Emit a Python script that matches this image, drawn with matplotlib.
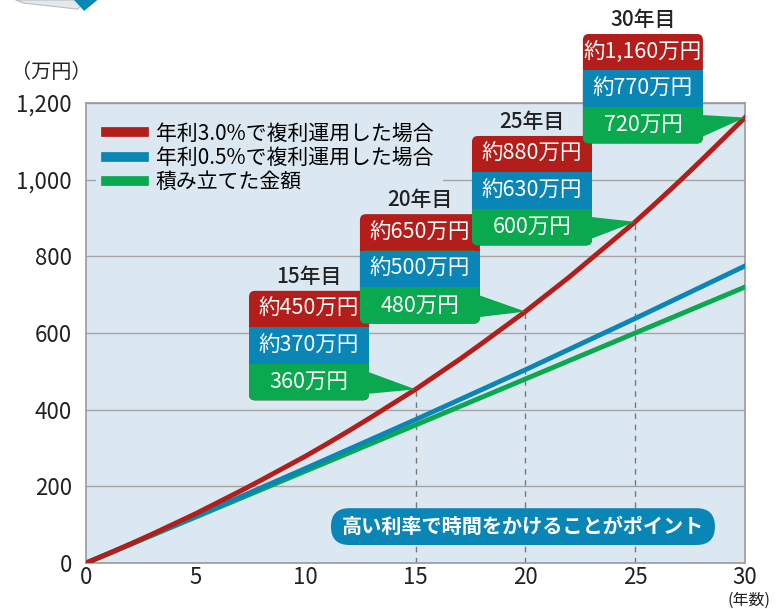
import matplotlib
matplotlib.use('Agg')
import matplotlib.pyplot as plt
from matplotlib.patches import FancyBboxPatch, Rectangle, Polygon
import numpy as np

plt.rcParams['font.family'] = ['Noto Sans CJK JP', 'DejaVu Sans']

RED = '#b31d1a'
BLUE = '#0a86b6'
GREEN = '#0aa84f'
BG = '#dce8f1'

# 年数と金額（万円）
YEARS_RED = list(range(0, 31))
RED_VALUES = [0, 24, 49, 75, 102, 129, 158, 187, 217, 248, 279, 312, 346, 381, 417, 453,
              492, 531, 572, 614, 656, 701, 746, 794, 842, 890, 942, 995, 1050, 1106, 1162]
YEARS = [0, 5, 10, 15, 20, 25, 30]
BLUE_VALUES = [0, 122, 247, 374, 504, 638, 775]
GREEN_VALUES = [0, 120, 240, 360, 480, 600, 720]

LABELS = ['年利3.0%で複利運用した場合', '年利0.5%で複利運用した場合', '積み立てた金額']

CALLOUT_YEARS = [15, 20, 25, 30]
CALLOUT_TITLES = ['15年目', '20年目', '25年目', '30年目']
CALLOUT_RED = ['約450万円', '約650万円', '約880万円', '約1,160万円']
CALLOUT_BLUE = ['約370万円', '約500万円', '約630万円', '約770万円']
CALLOUT_GREEN = ['360万円', '480万円', '600万円', '720万円']
# box left edge (years) and top (万円)
CALLOUT_X = [7.42, 12.47, 17.57, 22.62]
CALLOUT_TOP = [710, 910, 1114, 1380]

fig = plt.figure(figsize=(7.79, 6.09), dpi=100)
ax = fig.add_axes([0.1104, 0.0755, 0.8460, 0.7554])
ax.set_facecolor(BG)
ax.set_xlim(0, 30)
ax.set_ylim(0, 1200)

for s in ax.spines.values():
    s.set_color('#9a9a9a')
    s.set_linewidth(1.2)
ax.set_yticks(range(0, 1201, 200))
ax.set_yticklabels(['0', '200', '400', '600', '800', '1,000', '1,200'])
ax.set_xticks(range(0, 31, 5))
ax.tick_params(length=0, labelsize=16, colors='#222222')
ax.tick_params(axis='y', pad=10)
ax.tick_params(axis='x', pad=2)
ax.yaxis.grid(True, color='#a5a5a5', linewidth=1)
ax.set_axisbelow(True)

# dashed guides
for yr in [15, 20, 25]:
    ax.plot([yr, yr], [0, RED_VALUES[yr]], color='#777777', lw=1, ls=(0, (4, 4)), zorder=1.5)

ax.plot(YEARS, GREEN_VALUES, color=GREEN, lw=3.5, label=LABELS[2], zorder=3)
ax.plot(YEARS, BLUE_VALUES, color=BLUE, lw=3.5, label=LABELS[1], zorder=3)
ax.plot(YEARS_RED, RED_VALUES, color=RED, lw=3.5, label=LABELS[0], zorder=3)

h, l = ax.get_legend_handles_labels()
leg = ax.legend(h[::-1], l[::-1], loc='upper left', bbox_to_anchor=(0.0, 1.0), fontsize=15,
                frameon=True, facecolor=BG, edgecolor='none', framealpha=1,
                handlelength=1.85, handletextpad=0.55, labelspacing=0.1, borderpad=0.45)
for line in leg.get_lines():
    line.set_linewidth(7)
leg.set_zorder(2)

# aspect to keep rounded corners circular in pixels
fig.canvas.draw()
bb = ax.get_window_extent()
px_x = bb.width / 30.0
px_y = bb.height / 1200.0
aspect = px_x / px_y
bh = 36.5 / px_y      # box height in data units
bw = 120 / px_x       # box width in data units
rad = 6 / px_x

for i, yr in enumerate(CALLOUT_YEARS):
    x0 = CALLOUT_X[i]
    top = CALLOUT_TOP[i]
    # red rounded (whole)
    ax.add_patch(FancyBboxPatch((x0, top - 3 * bh), bw, 3 * bh,
                                boxstyle=f'round,pad=0,rounding_size={rad}',
                                mutation_aspect=aspect, fc=RED, ec='none',
                                clip_on=False, zorder=5))
    # green rounded (lower two)
    ax.add_patch(FancyBboxPatch((x0, top - 3 * bh), bw, 2 * bh,
                                boxstyle=f'round,pad=0,rounding_size={rad}',
                                mutation_aspect=aspect, fc=GREEN, ec='none',
                                clip_on=False, zorder=6))
    # blue middle
    ax.add_patch(Rectangle((x0, top - 2 * bh), bw, bh, fc=BLUE, ec='none',
                           clip_on=False, zorder=7))
    # pointer
    g_top = top - 2 * bh
    ax.add_patch(Polygon([(x0 + bw - 0.05, g_top - 8 / px_y), (x0 + bw - 0.05, g_top - 30 / px_y),
                          (yr, RED_VALUES[yr])], closed=True, fc=GREEN, ec='none',
                         clip_on=False, zorder=6))
    cx = x0 + bw / 2
    ax.text(cx, top - 0.5 * bh, CALLOUT_RED[i], color='white', fontsize=15.5,
            ha='center', va='center', zorder=8, clip_on=False)
    ax.text(cx, top - 1.5 * bh, CALLOUT_BLUE[i], color='white', fontsize=15.5,
            ha='center', va='center', zorder=8, clip_on=False)
    ax.text(cx, top - 2.5 * bh, CALLOUT_GREEN[i], color='white', fontsize=15.5,
            ha='center', va='center', zorder=8, clip_on=False)
    ax.text(cx, top + 14 / px_y, CALLOUT_TITLES[i], color='#222222',
            fontsize=15, fontweight='medium', ha='center', va='center', zorder=8, clip_on=False)

# bottom message pill
pill_x0, pill_x1 = 11.15, 28.63
pill_y0, pill_y1 = 47, 143
ph = (pill_y1 - pill_y0) * px_y
ax.add_patch(FancyBboxPatch((pill_x0, pill_y0), pill_x1 - pill_x0, pill_y1 - pill_y0,
                            boxstyle=f'round,pad=0,rounding_size={ph / 2 / px_x}',
                            mutation_aspect=aspect, fc=BLUE, ec='none', zorder=5))
ax.text((pill_x0 + pill_x1) / 2, (pill_y0 + pill_y1) / 2, '高い利率で時間をかけることがポイント',
        color='white', fontsize=14.5, fontweight='bold', ha='center', va='center', zorder=6)

# axis unit labels
ax.text(-0.052, 1.067, '（万円）', transform=ax.transAxes, fontsize=14.5, color='#222222',
        ha='center', va='center')
fig.text(0.962, 0.001, '(年数)', fontsize=11.5, color='#222222', ha='center', va='bottom')

# decorative corner fragment
fig.patches.append(Polygon([(0.02, 1.0), (0.11, 1.0), (0.10, 0.985), (0.03, 0.995)],
                           closed=True, transform=fig.transFigure, fc='#e4e8ec', ec='#b8bec4',
                           lw=0.8, zorder=1))
fig.patches.append(Polygon([(0.095, 1.0), (0.125, 1.0), (0.108, 0.982)],
                           closed=True, transform=fig.transFigure, fc=BLUE, ec='none', zorder=2))

fig.savefig('out.png', dpi=100)
